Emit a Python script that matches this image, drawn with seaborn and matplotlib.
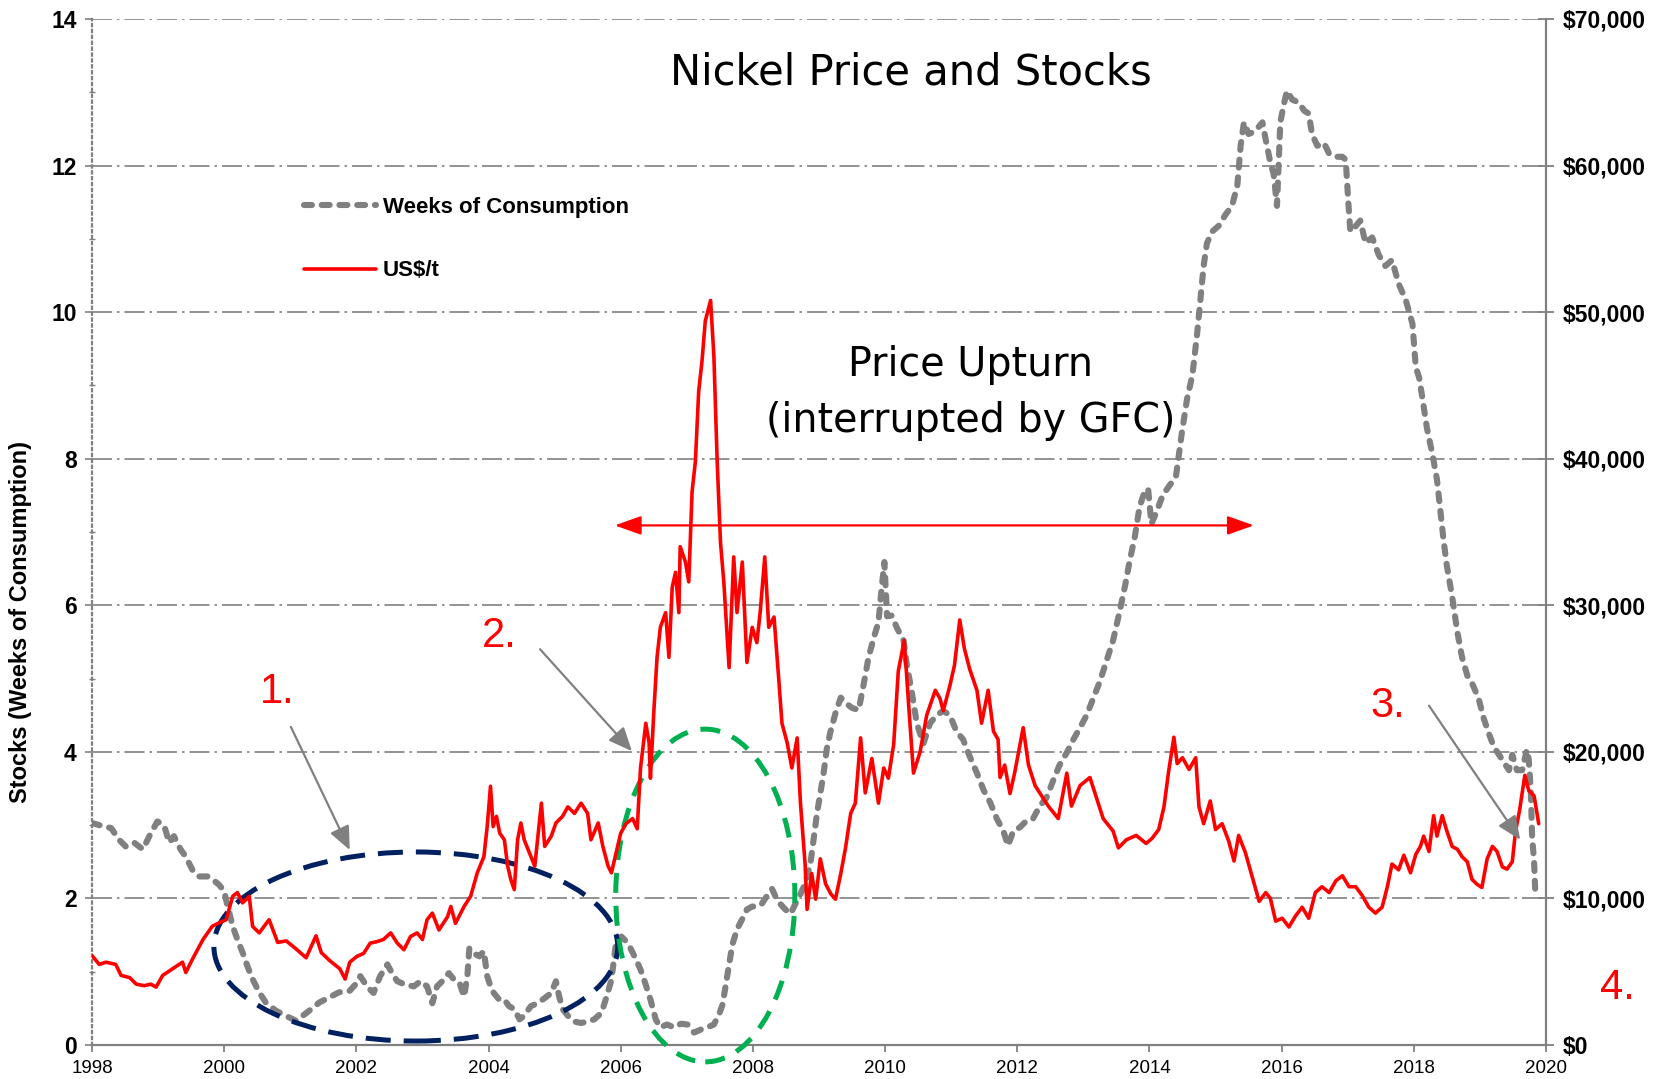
import numpy as np
import pandas as pd
import matplotlib
matplotlib.use("Agg")
import matplotlib.pyplot as plt
from matplotlib.patches import Ellipse
from matplotlib.ticker import FuncFormatter, MultipleLocator
import seaborn as sns

# price, US$/t
price_years = [
    1998.00, 1998.11, 1998.21, 1998.36, 1998.44, 1998.57, 1998.67, 1998.79, 1998.89, 1998.97,
    1999.07, 1999.22, 1999.37, 1999.42, 1999.52, 1999.68, 1999.82, 1999.93, 2000.03, 2000.13,
    2000.20, 2000.28, 2000.38, 2000.43, 2000.53, 2000.68, 2000.81, 2000.94, 2001.09, 2001.24,
    2001.39, 2001.47, 2001.60, 2001.75, 2001.83, 2001.90, 2002.01, 2002.11, 2002.21, 2002.31,
    2002.41, 2002.52, 2002.62, 2002.72, 2002.82, 2002.92, 2003.00, 2003.07, 2003.15, 2003.25,
    2003.38, 2003.43, 2003.50, 2003.63, 2003.73, 2003.83, 2003.93, 2003.98, 2004.03, 2004.07,
    2004.12, 2004.17, 2004.24, 2004.29, 2004.34, 2004.39, 2004.44, 2004.49, 2004.54, 2004.62,
    2004.70, 2004.80, 2004.85, 2004.95, 2005.02, 2005.12, 2005.20, 2005.30, 2005.40, 2005.50,
    2005.55, 2005.66, 2005.73, 2005.81, 2005.86, 2005.93, 2006.00, 2006.08, 2006.18, 2006.25,
    2006.30, 2006.38, 2006.43, 2006.45, 2006.50, 2006.55, 2006.60, 2006.68, 2006.73, 2006.78,
    2006.83, 2006.88, 2006.90, 2006.98, 2007.03, 2007.08, 2007.13, 2007.18, 2007.23, 2007.28,
    2007.36, 2007.41, 2007.46, 2007.51, 2007.56, 2007.64, 2007.71, 2007.76, 2007.84, 2007.91,
    2007.99, 2008.06, 2008.11, 2008.18, 2008.24, 2008.32, 2008.39, 2008.44, 2008.52, 2008.59,
    2008.67, 2008.72, 2008.79, 2008.82, 2008.89, 2008.95, 2009.02, 2009.10, 2009.18, 2009.25,
    2009.33, 2009.40, 2009.48, 2009.55, 2009.63, 2009.70, 2009.80, 2009.90, 2009.98, 2010.05,
    2010.13, 2010.20, 2010.29, 2010.36, 2010.43, 2010.53, 2010.63, 2010.76, 2010.83, 2010.88,
    2010.98, 2011.05, 2011.13, 2011.20, 2011.28, 2011.39, 2011.46, 2011.56, 2011.64, 2011.71,
    2011.74, 2011.81, 2011.89, 2011.96, 2012.09, 2012.17, 2012.27, 2012.39, 2012.47, 2012.62,
    2012.75, 2012.82, 2012.95, 2013.10, 2013.20, 2013.30, 2013.45, 2013.53, 2013.65, 2013.80,
    2013.95, 2014.04, 2014.14, 2014.22, 2014.29, 2014.37, 2014.42, 2014.50, 2014.60, 2014.70,
    2014.75, 2014.82, 2014.92, 2015.00, 2015.10, 2015.20, 2015.28, 2015.35, 2015.45, 2015.55,
    2015.66, 2015.76, 2015.83, 2015.91, 2016.01, 2016.11, 2016.21, 2016.31, 2016.41, 2016.51,
    2016.61, 2016.72, 2016.82, 2016.92, 2017.02, 2017.12, 2017.22, 2017.32, 2017.42, 2017.52,
    2017.60, 2017.67, 2017.77, 2017.85, 2017.95, 2018.03, 2018.10, 2018.15, 2018.23, 2018.30,
    2018.35, 2018.43, 2018.50, 2018.58, 2018.66, 2018.73, 2018.81, 2018.88, 2018.96, 2019.03,
    2019.11, 2019.19, 2019.26, 2019.34, 2019.41, 2019.49, 2019.54, 2019.60, 2019.68, 2019.74,
    2019.82, 2019.89,
]
price_usd = [
    6100, 5500, 5650, 5500, 4750, 4600, 4150, 4050, 4150, 3950,
    4750, 5200, 5650, 4950, 5850, 7200, 8100, 8350, 8550, 10150,
    10400, 9700, 10150, 8100, 7650, 8550, 7000, 7100, 6550, 5950,
    7450, 6300, 5750, 5200, 4500, 5650, 6050, 6250, 6950, 7050,
    7200, 7650, 6950, 6500, 7400, 7650, 7200, 8550, 9000, 7850,
    8750, 9450, 8300, 9450, 10150, 11750, 12850, 14900, 17650, 14900,
    15600, 14450, 14000, 12200, 11250, 10600, 14000, 15150, 14000, 13100,
    12200, 16500, 13550, 14250, 15150, 15600, 16250, 15800, 16500, 15800,
    14000, 15150, 13550, 12200, 11750, 13100, 14450, 15100, 15450, 14750,
    18900, 21950, 20600, 18200, 22650, 26450, 28500, 29500, 26450, 31250,
    32250, 29500, 34000, 32950, 31600, 37750, 39800, 44600, 46650, 49400,
    50800, 47000, 39800, 34300, 31600, 25750, 33300, 29500, 32950, 26100,
    28500, 27450, 29500, 33300, 28500, 29200, 25050, 21950, 20600, 18900,
    20950, 16500, 12350, 9250, 11700, 9950, 12700, 11000, 10300, 9950,
    11700, 13400, 15800, 16500, 20950, 17200, 19550, 16500, 18900, 18200,
    20500, 25500, 27600, 23000, 18550, 20000, 22500, 24200, 23650, 22800,
    24500, 25900, 29000, 27050, 25650, 24200, 21950, 24200, 21400, 20850,
    18250, 19100, 17150, 18550, 21650, 19100, 17700, 16850, 16300, 15450,
    18550, 16300, 17700, 18250, 16850, 15450, 14600, 13450, 14000, 14300,
    13750, 14100, 14700, 16250, 18650, 21000, 19200, 19600, 18800, 19600,
    16250, 15100, 16650, 14700, 15100, 13900, 12550, 14300, 13150, 11550,
    9800, 10400, 10000, 8450, 8650, 8050, 8800, 9400, 8650, 10400,
    10800, 10400, 11200, 11550, 10800, 10800, 10200, 9400, 9000, 9400,
    10800, 12350, 11950, 12950, 11750, 13000, 13550, 14250, 13200, 15650,
    14250, 15650, 14600, 13550, 13350, 12850, 12500, 11300, 10950, 10750,
    12700, 13550, 13200, 12150, 12000, 12500, 14600, 16000, 18400, 17350,
    17000, 15100,
]

# stocks, weeks of consumption
stock_years = [
    1998.00, 1998.15, 1998.29, 1998.41, 1998.51, 1998.64, 1998.77, 1998.89, 1998.99, 1999.09,
    1999.17, 1999.24, 1999.34, 1999.42, 1999.52, 1999.62, 1999.75, 1999.85, 1999.92, 2000.00,
    2000.05, 2000.13, 2000.20, 2000.28, 2000.35, 2000.43, 2000.53, 2000.63, 2000.78, 2000.93,
    2001.09, 2001.19, 2001.29, 2001.44, 2001.59, 2001.74, 2001.90, 2002.02, 2002.06, 2002.16,
    2002.26, 2002.36, 2002.47, 2002.54, 2002.62, 2002.75, 2002.87, 2002.97, 2003.07, 2003.15,
    2003.22, 2003.30, 2003.40, 2003.48, 2003.56, 2003.63, 2003.68, 2003.71, 2003.78, 2003.86,
    2003.93, 2003.98, 2004.03, 2004.08, 2004.16, 2004.24, 2004.31, 2004.39, 2004.47, 2004.54,
    2004.64, 2004.74, 2004.85, 2004.95, 2005.02, 2005.07, 2005.12, 2005.20, 2005.30, 2005.40,
    2005.50, 2005.60, 2005.71, 2005.78, 2005.86, 2005.93, 2006.01, 2006.11, 2006.23, 2006.30,
    2006.38, 2006.45, 2006.53, 2006.60, 2006.70, 2006.81, 2006.91, 2007.01, 2007.11, 2007.21,
    2007.31, 2007.41, 2007.49, 2007.54, 2007.59, 2007.64, 2007.69, 2007.76, 2007.84, 2007.91,
    2007.99, 2008.06, 2008.13, 2008.21, 2008.29, 2008.34, 2008.42, 2008.49, 2008.57, 2008.64,
    2008.72, 2008.79, 2008.87, 2008.92, 2008.97, 2009.02, 2009.07, 2009.12, 2009.17, 2009.25,
    2009.33, 2009.40, 2009.50, 2009.60, 2009.68, 2009.75, 2009.83, 2009.90, 2009.95, 2009.99,
    2010.03, 2010.10, 2010.18, 2010.28, 2010.33, 2010.40, 2010.48, 2010.58, 2010.68, 2010.78,
    2010.88, 2010.98, 2011.08, 2011.18, 2011.28, 2011.39, 2011.49, 2011.59, 2011.69, 2011.79,
    2011.86, 2011.94, 2012.04, 2012.14, 2012.24, 2012.34, 2012.44, 2012.54, 2012.64, 2012.75,
    2012.85, 2012.95, 2013.05, 2013.15, 2013.25, 2013.35, 2013.45, 2013.55, 2013.63, 2013.70,
    2013.78, 2013.85, 2013.93, 2013.98, 2014.03, 2014.11, 2014.20, 2014.30, 2014.40, 2014.49,
    2014.57, 2014.65, 2014.72, 2014.77, 2014.82, 2014.87, 2014.95, 2015.05, 2015.15, 2015.25,
    2015.33, 2015.38, 2015.43, 2015.50, 2015.60, 2015.71, 2015.76, 2015.83, 2015.88, 2015.93,
    2015.96, 2015.98, 2016.03, 2016.08, 2016.16, 2016.26, 2016.34, 2016.41, 2016.46, 2016.54,
    2016.64, 2016.72, 2016.82, 2016.92, 2016.97, 2017.01, 2017.04, 2017.09, 2017.19, 2017.27,
    2017.37, 2017.47, 2017.57, 2017.67, 2017.77, 2017.88, 2017.98, 2018.03, 2018.08, 2018.13,
    2018.20, 2018.28, 2018.35, 2018.40, 2018.45, 2018.50, 2018.58, 2018.66, 2018.73, 2018.81,
    2018.88, 2018.98, 2019.06, 2019.14, 2019.21, 2019.29, 2019.36, 2019.44, 2019.49, 2019.56,
    2019.64, 2019.71, 2019.74, 2019.77, 2019.79, 2019.82, 2019.84, 2019.87,
]
stock_weeks = [
    3.03, 2.99, 2.96, 2.80, 2.71, 2.76, 2.67, 2.89, 3.05, 3.00,
    2.76, 2.85, 2.67, 2.57, 2.39, 2.30, 2.30, 2.24, 2.19, 2.10,
    1.90, 1.62, 1.44, 1.26, 1.08, 0.90, 0.72, 0.58, 0.47, 0.40,
    0.33, 0.40, 0.47, 0.58, 0.65, 0.72, 0.74, 0.86, 0.94, 0.80,
    0.71, 0.94, 1.10, 0.98, 0.87, 0.82, 0.80, 0.87, 0.80, 0.57,
    0.80, 0.87, 0.98, 0.89, 0.85, 0.66, 0.94, 1.32, 1.25, 1.21,
    1.28, 0.94, 0.80, 0.71, 0.62, 0.62, 0.53, 0.49, 0.35, 0.40,
    0.53, 0.57, 0.64, 0.71, 0.87, 0.66, 0.49, 0.40, 0.32, 0.30,
    0.32, 0.35, 0.44, 0.64, 0.89, 1.40, 1.48, 1.39, 1.17, 1.03,
    0.82, 0.62, 0.35, 0.24, 0.28, 0.24, 0.29, 0.28, 0.17, 0.21,
    0.24, 0.28, 0.42, 0.55, 0.82, 1.10, 1.37, 1.58, 1.72, 1.85,
    1.89, 1.89, 1.92, 2.03, 2.13, 2.03, 1.92, 1.85, 1.79, 1.92,
    2.06, 2.20, 2.47, 2.82, 3.16, 3.43, 3.71, 4.05, 4.26, 4.53,
    4.74, 4.67, 4.60, 4.57, 4.94, 5.29, 5.56, 5.77, 6.25, 6.59,
    5.85, 5.86, 5.69, 5.52, 5.18, 4.84, 4.39, 4.11, 4.39, 4.50,
    4.56, 4.50, 4.28, 4.17, 3.94, 3.71, 3.48, 3.31, 3.09, 2.92,
    2.72, 2.92, 2.97, 3.06, 3.09, 3.26, 3.37, 3.60, 3.82, 3.99,
    4.17, 4.33, 4.50, 4.73, 4.96, 5.24, 5.52, 5.92, 6.26, 6.60,
    6.94, 7.34, 7.56, 7.59, 7.11, 7.28, 7.50, 7.63, 7.75, 8.35,
    8.82, 9.14, 9.69, 10.16, 10.63, 10.94, 11.10, 11.18, 11.33, 11.45,
    11.73, 12.27, 12.59, 12.43, 12.47, 12.59, 12.35, 12.04, 11.88, 11.45,
    12.12, 12.59, 12.82, 13.02, 12.90, 12.86, 12.75, 12.71, 12.43, 12.27,
    12.31, 12.16, 12.12, 12.12, 12.08, 11.49, 11.10, 11.14, 11.25, 10.94,
    11.02, 10.78, 10.63, 10.71, 10.39, 10.16, 9.84, 9.25, 9.11, 8.83,
    8.41, 8.07, 7.72, 7.30, 6.89, 6.54, 6.12, 5.63, 5.29, 5.04,
    4.94, 4.73, 4.45, 4.24, 4.07, 3.96, 3.86, 3.75, 3.96, 3.75,
    3.75, 4.03, 3.89, 3.47, 2.85, 2.50, 2.05, 2.01,
]

year_ticks = list(range(1998, 2021, 2))

price_df = pd.DataFrame({"year": price_years, "usd": price_usd})
stock_df = pd.DataFrame({"year": stock_years, "weeks": stock_weeks})

sns.set_theme(style="white")
plt.rcParams["font.family"] = ["Liberation Sans", "DejaVu Sans"]
plt.rcParams["text.color"] = "black"
plt.rcParams["xtick.color"] = "black"
plt.rcParams["ytick.color"] = "black"

GREY = "#808080"
fig = plt.figure(figsize=(16.57, 10.79), dpi=100)
ax = fig.add_axes([0.0555, 0.0315, 0.8775, 0.9509])
ax2 = ax.twinx()

sns.lineplot(data=stock_df, x="year", y="weeks", ax=ax, color=GREY, lw=4.4,
             linestyle=(0, (1.3, 1.6)), dash_capstyle="round",
             estimator=None, sort=False, label="Weeks of Consumption", legend=False)
sns.lineplot(data=price_df, x="year", y="usd", ax=ax2, color="#ff0000", lw=2.6,
             estimator=None, sort=False, label="US$/t", legend=False)

ax.set_xlim(1998, 2020)
ax.set_ylim(0, 14)
ax2.set_ylim(0, 70000)
ax.set_xlabel("")
ax.set_ylabel("")
ax2.set_ylabel("")

ax.set_xticks(year_ticks)
ax.set_xticklabels([str(y) for y in year_ticks], fontsize=13.5)
ax.yaxis.set_major_locator(MultipleLocator(2))
ax.yaxis.set_minor_locator(MultipleLocator(1))
ax2.yaxis.set_major_locator(MultipleLocator(10000))
ax2.yaxis.set_major_formatter(FuncFormatter(lambda v, p: f"${v:,.0f}"))
for lab in ax.get_yticklabels() + ax2.get_yticklabels():
    lab.set_fontweight("bold")
    lab.set_fontsize(16.5)

ax.yaxis.grid(True, linestyle=(0, (12, 3, 1.5, 3)), color=GREY, lw=1.2)
ax.xaxis.grid(False)
ax2.grid(False)

for a in (ax, ax2):
    a.spines["top"].set_visible(False)
ax.spines["right"].set_visible(False)
ax2.spines["left"].set_visible(False)
ax2.spines["bottom"].set_visible(False)
ax.spines["left"].set_color(GREY)
ax.spines["left"].set_linestyle(":")
ax.spines["left"].set_linewidth(1.6)
ax.spines["bottom"].set_color(GREY)
ax.spines["bottom"].set_linewidth(1.6)
ax2.spines["right"].set_color(GREY)
ax2.spines["right"].set_linewidth(1.6)

ax.tick_params(axis="x", bottom=True, direction="out", length=5, width=1.3, color=GREY,
               labelcolor="black", pad=6)
ax.tick_params(axis="y", which="major", left=True, direction="out", length=5, width=1.2,
               color=GREY, labelcolor="black", pad=6)
ax.tick_params(axis="y", which="minor", left=True, direction="inout", length=5, width=1.0, color=GREY)
ax2.tick_params(axis="y", right=True, direction="inout", length=12, width=1.3, color=GREY,
                labelcolor="black", pad=6)

# legend
h1, l1 = ax.get_legend_handles_labels()
h2, l2 = ax2.get_legend_handles_labels()
fig.legend(h1 + h2, l1 + l2, loc="upper left", bbox_to_anchor=(293 / 1657, 1 - 186 / 1079),
           bbox_transform=fig.transFigure, frameon=False, borderpad=0,
           handlelength=3.25, handletextpad=0.3, labelspacing=1.9,
           prop={"weight": "bold", "size": 16})

# titles and notes
fig.text(0.55, 0.933, "Nickel Price and Stocks", ha="center", va="center",
         fontsize=30, color="black", family=["DejaVu Sans"])
ax.text(2011.3, 9.28, "Price Upturn", ha="center", va="center", fontsize=28.5,
        color="black", family=["DejaVu Sans"])
ax.text(2011.3, 8.51, "(interrupted by GFC)", ha="center", va="center", fontsize=28.5,
        color="black", family=["DejaVu Sans"])
fig.text(21 / 1657, 1 - 622 / 1079, "Stocks (Weeks of Consumption)", rotation=90,
         ha="center", va="center", fontsize=17, fontweight="bold", color="black")

for label, x, y in [("1.", 2000.81, 4.82), ("2.", 2004.16, 5.58), ("3.", 2017.61, 4.63)]:
    ax.text(x, y, label, color="#ff0000", fontsize=30, ha="center", va="center")
fig.text(1617 / 1657, 1 - 988 / 1079, "4.", color="#ff0000", fontsize=30, ha="center", va="center")

# arrows
for (x0, y0), (x1, y1) in [((2001.01, 4.34), (2001.90, 2.66)),
                           ((2004.78, 5.40), (2006.17, 4.01)),
                           ((2018.23, 4.63), (2019.61, 2.80))]:
    ax2.annotate("", xy=(x1, y1), xytext=(x0, y0), xycoords=ax.transData, textcoords=ax.transData,
                 arrowprops=dict(arrowstyle="-|>,head_length=0.8,head_width=0.35", color=GREY,
                                 lw=1.6, shrinkA=0, shrinkB=0, mutation_scale=18))
ax2.annotate("", xy=(2015.58, 7.09), xytext=(2005.91, 7.09), xycoords=ax.transData,
             textcoords=ax.transData,
             arrowprops=dict(arrowstyle="<|-|>,head_length=0.9,head_width=0.32", color="#ff0000",
                             lw=1.6, shrinkA=0, shrinkB=0, mutation_scale=18))

# ellipses
ax2.add_patch(Ellipse((2002.90, 1.344), 6.11, 2.58, transform=ax.transData, fill=False,
                      edgecolor="#002060", lw=3.6, linestyle=(0, (5, 2.6)), clip_on=False))
ax2.add_patch(Ellipse((2007.28, 2.04), 2.71, 4.54, transform=ax.transData, fill=False,
                      edgecolor="#00b050", lw=3.6, linestyle=(0, (4, 2.6)), clip_on=False))

fig.savefig("out.png", dpi=100)
